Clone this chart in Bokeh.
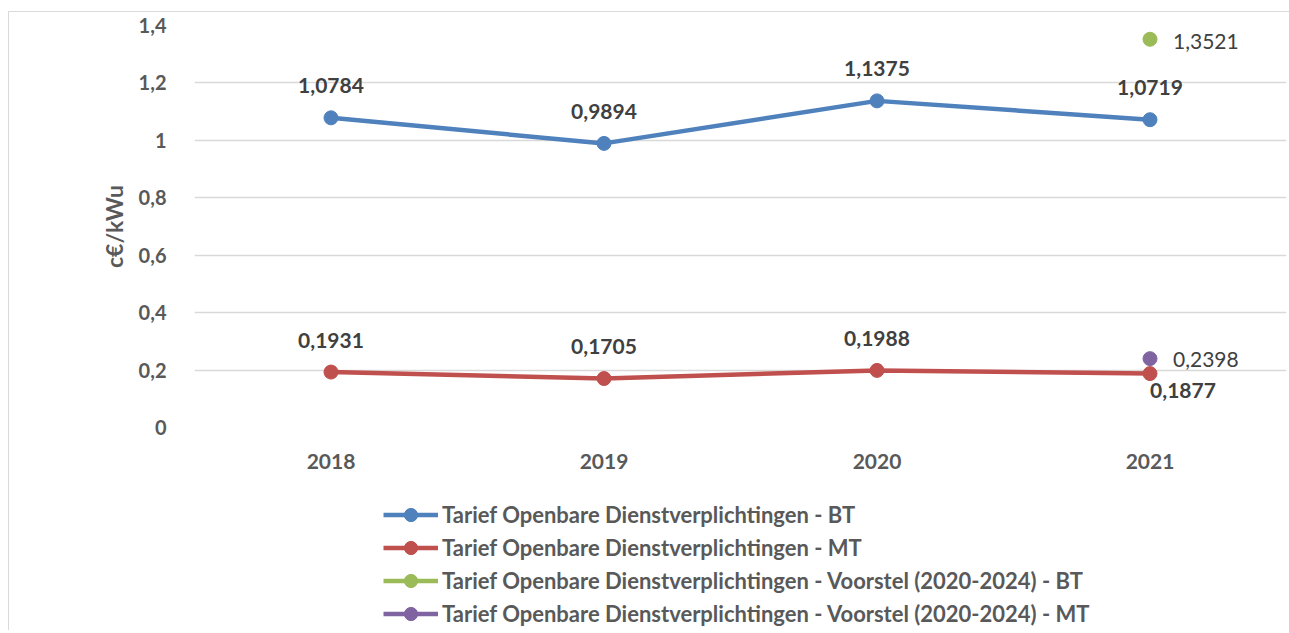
from bokeh.plotting import figure
from bokeh.layouts import column
from bokeh.models import FactorRange, FixedTicker, Legend, LegendItem, ColumnDataSource, Range1d
from bokeh.core.properties import value
from bokeh.embed import file_html
from bokeh.resources import INLINE

years = ["2018", "2019", "2020", "2021"]
bt = [1.0784, 0.9894, 1.1375, 1.0719]
mt = [0.1931, 0.1705, 0.1988, 0.1877]
bt_lbl = ["1,0784", "0,9894", "1,1375", "1,0719"]
mt_lbl = ["0,1931", "0,1705", "0,1988", "0,1877"]
prop_years = ["2021"]
prop_bt = [1.3521]
prop_mt = [0.2398]
prop_bt_lbl = ["1,3521"]
prop_mt_lbl = ["0,2398"]
yticks = [0, 0.2, 0.4, 0.6, 0.8, 1.0, 1.2, 1.4]
ytick_lbl = ["0", "0,2", "0,4", "0,6", "0,8", "1", "1,2", "1,4"]
names = ["Tarief Openbare Dienstverplichtingen - BT",
         "Tarief Openbare Dienstverplichtingen - MT",
         "Tarief Openbare Dienstverplichtingen - Voorstel (2020-2024) - BT",
         "Tarief Openbare Dienstverplichtingen - Voorstel (2020-2024) - MT"]
colors = ["#4F81BD", "#C0504D", "#9BBB59", "#8064A2"]

FONT = "Lato"
TXT = "#595959"

p = figure(width=1280, height=468, output_backend="svg", toolbar_location=None,
           x_range=FactorRange(factors=years, range_padding=0),
           y_range=Range1d(0, 1.4),
           min_border_left=185, min_border_right=3, min_border_top=13, min_border_bottom=53)
p.outline_line_color = None

p.xgrid.grid_line_color = None
p.ygrid.grid_line_color = "#d9d9d9"
p.ygrid.grid_line_width = 1.5
p.yaxis.ticker = FixedTicker(ticks=yticks)
p.yaxis.major_label_overrides = {t: l for t, l in zip(yticks, ytick_lbl)}
for ax in (p.xaxis[0], p.yaxis[0]):
    ax.axis_line_color = None
    ax.major_tick_line_color = None
    ax.minor_tick_line_color = None
    ax.major_label_text_font = FONT
    ax.major_label_text_font_style = "bold"
    ax.major_label_text_font_size = "21px"
    ax.major_label_text_color = TXT
p.yaxis.major_label_text_font_size = "20px"
p.xaxis.major_label_standoff = 20
p.yaxis.major_label_standoff = 22
p.yaxis.axis_label = "c€/kWu"
p.yaxis.axis_label_text_font = FONT
p.yaxis.axis_label_text_font_style = "bold"
p.yaxis.axis_label_text_font_size = "23px"
p.yaxis.axis_label_text_color = TXT
p.yaxis.axis_label_standoff = 8

s_bt = ColumnDataSource(dict(x=years, y=bt, t=bt_lbl))
s_mt = ColumnDataSource(dict(x=years, y=mt, t=mt_lbl))
s_pbt = ColumnDataSource(dict(x=prop_years, y=prop_bt, t=prop_bt_lbl))
s_pmt = ColumnDataSource(dict(x=prop_years, y=prop_mt, t=prop_mt_lbl))

for src, c in zip([s_bt, s_mt, s_pbt, s_pmt], colors):
    p.line("x", "y", source=src, line_color=c, line_width=4.5)
    p.scatter("x", "y", source=src, size=14, fill_color=c, line_color=c)

lab = dict(text="t", text_font=value(FONT), text_font_size="21px", text_color="#404040",
           text_baseline="middle")
p.text("x", "y", source=s_bt, text_align="center", y_offset=-32, text_font_style="bold", **lab)
p.text("x", "y", source=ColumnDataSource(dict(x=years[:3], y=mt[:3], t=mt_lbl[:3])),
       text_align="center", y_offset=-32, text_font_style="bold", **lab)
p.text("x", "y", source=ColumnDataSource(dict(x=years[3:], y=mt[3:], t=mt_lbl[3:])),
       text_align="center", x_offset=33, y_offset=17, text_font_style="bold", **lab)
p.text("x", "y", source=s_pbt, text_align="left", x_offset=23, y_offset=2, text_font_style="normal", **lab)
p.text("x", "y", source=s_pmt, text_align="left", x_offset=23, y_offset=1, text_font_style="normal", **lab)

# legend panel below the chart (legend swatches use NaN points that draw nothing)
p2 = figure(width=1280, height=150, output_backend="svg", toolbar_location=None,
            x_range=Range1d(0, 1), y_range=Range1d(0, 1),
            min_border_left=0, min_border_right=0, min_border_top=0, min_border_bottom=0)
p2.axis.visible = False
p2.grid.visible = False
p2.outline_line_color = None
items = []
for c, n in zip(colors, names):
    es = ColumnDataSource(dict(x=[float("nan")], y=[float("nan")]))
    l = p2.line("x", "y", source=es, line_color=c, line_width=4.5)
    m = p2.scatter("x", "y", source=es, size=14, fill_color=c, line_color=c)
    items.append(LegendItem(label=n, renderers=[l, m]))
legend = Legend(items=items, location=(189, 0), orientation="vertical",
                glyph_width=55, glyph_height=33, label_height=33, spacing=0,
                label_standoff=4, padding=0, margin=0,
                label_text_font=FONT, label_text_font_style="bold",
                label_text_font_size="22px", label_text_color=TXT,
                border_line_alpha=0, background_fill_alpha=0)
p2.add_layout(legend, "center")

layout = column(p, p2, spacing=0)
layout.styles = {"border-left": "1px solid #d9d9d9", "border-top": "1px solid #d9d9d9",
                 "margin-top": "11px", "margin-left": "8px"}

open("out.html", "w").write(file_html(layout, INLINE))
